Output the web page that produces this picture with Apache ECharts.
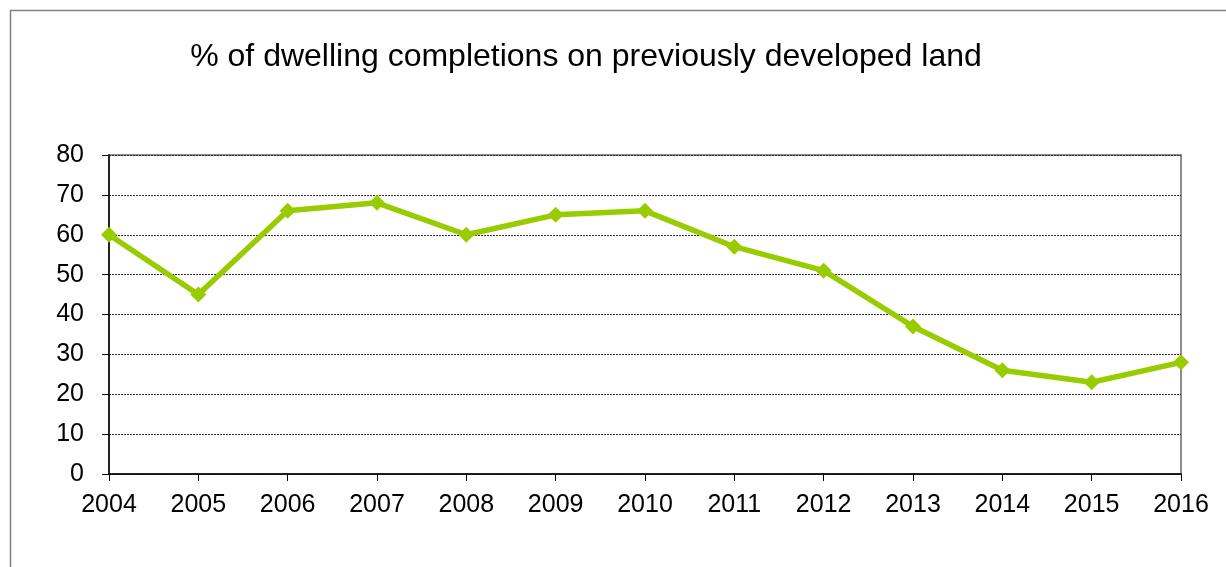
<!DOCTYPE html>
<html>
<head>
<meta charset="utf-8">
<style>
  html, body { margin: 0; padding: 0; background: #ffffff; }
  #chart { width: 1226px; height: 567px; }
</style>
<script src="https://cdn.jsdelivr.net/npm/echarts@6/dist/echarts.min.js"></script>
</head>
<body>
<div id="chart"></div>
<script>
// Share of new dwellings completed on previously developed (brownfield) land
const years = ['2004', '2005', '2006', '2007', '2008', '2009', '2010',
               '2011', '2012', '2013', '2014', '2015', '2016'];
const pdlShare = [60, 45, 66, 68, 60, 65, 66, 57, 51, 37, 26, 23, 28];
const yTicks = { min: 0, max: 80, step: 10 };

const chart = echarts.init(document.getElementById('chart'), null, { renderer: 'canvas' });

const font = 'Liberation Sans, Arial, sans-serif';

chart.setOption({
  animation: false,
  backgroundColor: '#ffffff',
  title: {
    text: '% of dwelling completions on previously developed land',
    left: 581,
    top: 36,
    textAlign: 'center',
    textStyle: { fontFamily: font, fontSize: 32, fontWeight: 'normal', color: '#000000' }
  },
  graphic: [
    {
      type: 'rect',
      shape: { x: 10.5, y: 10.5, width: 1300, height: 700 },
      style: { fill: 'none', stroke: '#808080', lineWidth: 1.5 },
      silent: true
    }
  ],
  grid: {
    left: 109, top: 155, right: 45, bottom: 93,
    show: true,
    borderColor: '#8c8c8c',
    borderWidth: 2,
    backgroundColor: 'transparent'
  },
  xAxis: {
    type: 'category',
    data: years,
    boundaryGap: false,
    axisLine: { show: true, onZero: false, lineStyle: { color: '#000000', width: 1.5 } },
    axisTick: { show: true, alignWithLabel: true, length: 7, inside: false, lineStyle: { color: '#000000', width: 1 } },
    axisLabel: { fontFamily: font, fontSize: 25, color: '#000000', margin: 19 },
    splitLine: { show: false }
  },
  yAxis: {
    type: 'value',
    min: yTicks.min,
    max: yTicks.max,
    interval: yTicks.step,
    axisLine: { show: true, lineStyle: { color: '#000000', width: 1.5 } },
    axisTick: { show: true, length: 7, lineStyle: { color: '#000000', width: 1 } },
    axisLabel: { fontFamily: font, fontSize: 25, color: '#000000', margin: 25 },
    splitLine: { show: true, lineStyle: { color: '#333333', width: 1, type: [2, 1] } }
  },
  series: [
    {
      type: 'line',
      data: pdlShare,
      symbol: 'diamond',
      symbolSize: 16,
      lineStyle: { color: '#99cc00', width: 5.5 },
      itemStyle: { color: '#99cc00' },
      z: 5
    }
  ]
});
</script>
</body>
</html>
